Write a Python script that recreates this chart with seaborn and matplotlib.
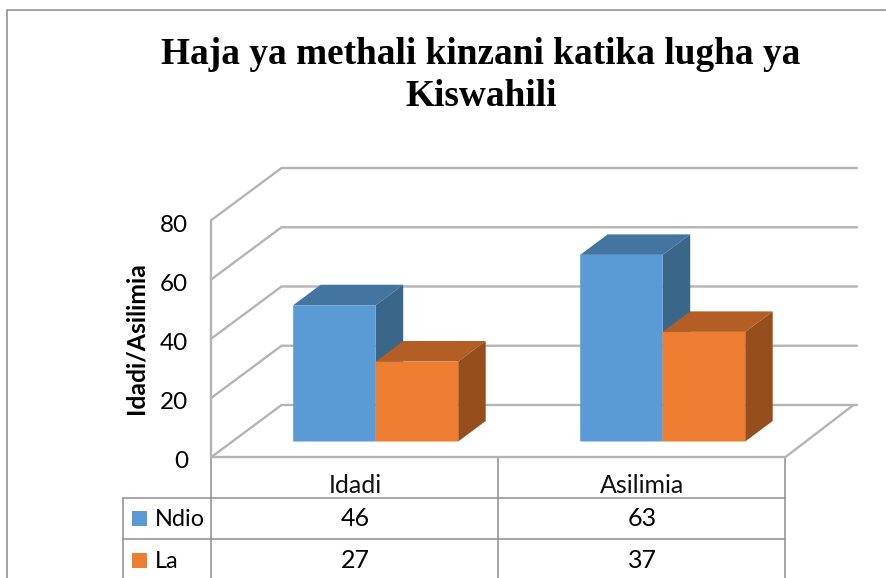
import matplotlib
matplotlib.use("Agg")
import matplotlib.pyplot as plt
import seaborn as sns
import pandas as pd
from matplotlib.patches import Polygon, Rectangle
from matplotlib.transforms import IdentityTransform, Affine2D, blended_transform_factory

title = "Haja ya methali kinzani katika lugha ya\nKiswahili"
y_label = "Idadi/Asilimia"
categories = ["Idadi", "Asilimia"]
series_names = ["Ndio", "La"]
ndio = [46, 63]
la = [27, 37]
y_ticks = [0, 20, 40, 60, 80]
colors = ["#5B9BD5", "#ED7D31"]
top_colors = ["#4475A1", "#B25E24"]
side_colors = ["#3A6689", "#964F1C"]
grid_color = "#B4B4B4"
table_color = "#8E8E8E"

W, H = 886, 578
sns.set_theme(style="white")
plt.rcParams["font.family"] = ["Lato", "DejaVu Sans"]

df = pd.DataFrame({
    "cat": categories * 2,
    "val": ndio + la,
    "series": [series_names[0]] * 2 + [series_names[1]] * 2,
})

fig = plt.figure(figsize=(W / 100, H / 100), dpi=100, facecolor="white")
bg = fig.add_axes([0, 0, 1, 1], zorder=0)
bg.set_xlim(0, W)
bg.set_ylim(H, 0)
bg.axis("off")

left, right, y0, y80 = 211.5, 785.5, 457, 220
ax = fig.add_axes([left / W, (H - y0) / H, (right - left) / W, (y0 - y80) / H], zorder=1)
ax.patch.set_alpha(0)

sns.barplot(data=df, x="cat", y="val", hue="series", hue_order=series_names,
            order=categories, palette=colors, width=0.575, gap=0, saturation=1,
            legend=False, linewidth=0, ax=ax)
ax.set_xlim(-0.5, 1.5)
ax.set_ylim(0, 80)
ax.set_yticks(y_ticks)
sns.despine(ax=ax, left=True, bottom=True, top=True, right=True)
ax.tick_params(axis="y", length=0, pad=17, labelsize=17.5, labelcolor="black")
ax.tick_params(axis="x", length=0, pad=12.5, labelsize=18, labelcolor="#111111")
ax.set_xlabel("")
ax.set_ylabel(y_label, fontsize=17.8, fontweight="bold", color="black")
ax.yaxis.set_label_coords(148, 338, transform=bg.transData)
fig.canvas.draw()
for tick in ax.yaxis.get_major_ticks():
    tick.label1.set_transform(tick.label1.get_transform() + Affine2D().translate(0, -3))

# 3D projection offsets (pixels, display space has y up)
floor_dx, floor_dy = 70, 52
bar_dx, bar_dy = 20.7, 15.5
deep_dx, deep_dy = 27.5, 20.5
wall_right = 857

# walls: side and back lines for every tick
for v in y_ticks:
    x0, y = ax.transData.transform((-0.5, v))
    pts = [(x0, y), (x0 + floor_dx, y + floor_dy), (wall_right, y + floor_dy)]
    fig.add_artist(plt.Line2D([p[0] for p in pts], [p[1] for p in pts],
                              transform=IdentityTransform(), color=grid_color,
                              lw=1.7, zorder=1, solid_joinstyle="miter"))

# left wall and floor edge
xl, yb = ax.transData.transform((-0.5, 0))
xr, yt = ax.transData.transform((1.5, 80))
fig.add_artist(plt.Line2D([xl, xl], [yb, yt], transform=IdentityTransform(),
                          color=grid_color, lw=1.7, zorder=1))
fig.add_artist(plt.Line2D([xl, xr, xr + floor_dx - 2], [yb, yb, yb + floor_dy],
                          transform=IdentityTransform(), color=grid_color,
                          lw=1.7, zorder=1))

# bars: translate fronts into depth, then add top and side faces
bars = [p for p in ax.patches if p.get_width() > 0 and p.get_height() > 0]
ordered = sorted(bars, key=lambda p: p.get_x())
shift = Affine2D().translate(bar_dx, bar_dy)
for i, p in enumerate(ordered):
    col_idx = i % 2
    (a, b) = ax.transData.transform((p.get_x(), 0))
    (c, d) = ax.transData.transform((p.get_x() + p.get_width(), p.get_height()))
    a, c = a + bar_dx, c + bar_dx
    b, d = b + bar_dy, d + bar_dy
    p.set_transform(ax.transData + shift)
    p.set_clip_on(False)
    p.set_snap(False)
    p.set_zorder(4 + 2 * col_idx)
    top = Polygon([(a, d), (c, d), (c + deep_dx, d + deep_dy), (a + deep_dx, d + deep_dy)],
                  closed=True, fc=top_colors[col_idx], ec="none", snap=False,
                  transform=IdentityTransform(), zorder=3 + 2 * col_idx, clip_on=False)
    side = Polygon([(c, b), (c + deep_dx, b + deep_dy), (c + deep_dx, d + deep_dy), (c, d)],
                   closed=True, fc=side_colors[col_idx], ec="none", snap=False,
                   transform=IdentityTransform(), zorder=3 + 2 * col_idx, clip_on=False)
    ax.add_artist(top)
    ax.add_artist(side)

# chart frame
bg.plot([7, 7, W], [H, 10, 10], color="#8A8A8A", lw=1.1, solid_joinstyle="miter")

# data table
row_ys = [498, 539]
for y in row_ys:
    bg.plot([123, right], [y, y], color=table_color, lw=1.1)
bg.plot([123, 123], [498, H], color=table_color, lw=1.1)
for x in [left, (left + right) / 2, right]:
    bg.plot([x, x], [y0, H], color=table_color, lw=1.1)

cell_tf = blended_transform_factory(ax.transData, bg.transData)
row_text_y = [519, 561]
swatch_y = [511, 553]
for r, (name, vals) in enumerate(zip(series_names, [ndio, la])):
    bg.add_patch(Rectangle((132, swatch_y[r]), 15, 15, fc=colors[r], ec="none"))
    bg.text(155, row_text_y[r], name, fontsize=16.8, color="black", ha="left", va="center")
    for i, v in enumerate(vals):
        ax.text(i, row_text_y[r], str(v), transform=cell_tf, fontsize=18,
                color="black", ha="center", va="center", clip_on=False)

# title
bg.text(481, 55, title.split("\n")[0], family="Liberation Serif", fontweight="bold",
        fontsize=26.8, color="black", ha="center", va="center")
bg.text(481, 96, title.split("\n")[1], family="Liberation Serif", fontweight="bold",
        fontsize=26.8, color="black", ha="center", va="center")

fig.savefig("out.png", dpi=100)
